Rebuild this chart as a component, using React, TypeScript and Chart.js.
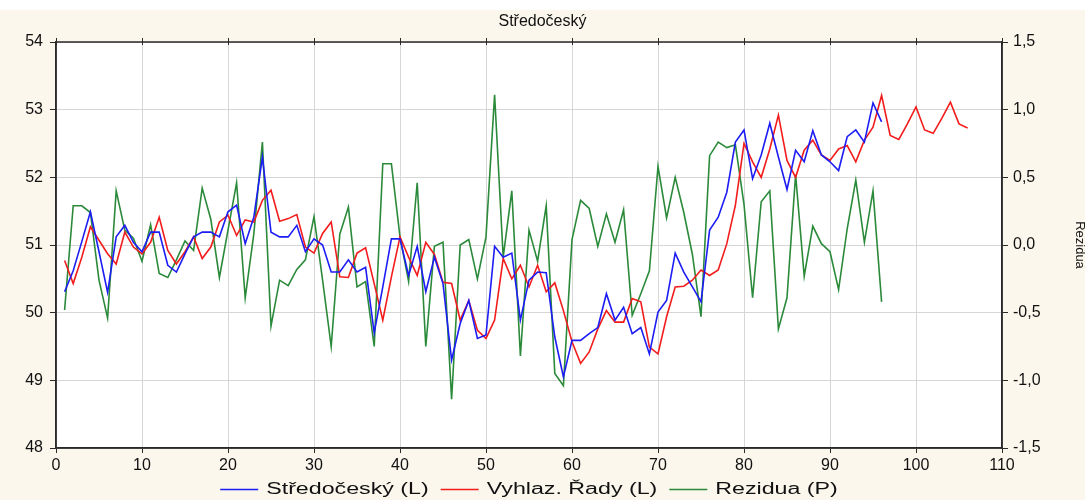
import { useEffect, useRef } from "react";
import { Chart, registerables } from "chart.js";

Chart.register(...registerables);

// Series data: observed values, smoothed series and residuals
const chartTitle = "Středočeský";
const seriesLabels = ["Středočeský (L)", "Vyhlaz. Řady (L)", "Rezidua (P)"];
const residualAxisTitle = "Rezidua";

const observed = [
  50.31, 50.62, 51.05, 51.49, 50.9, 50.3, 51.12, 51.29, 51.04, 50.9,
  51.19, 51.19, 50.7, 50.6, 50.87, 51.12, 51.19, 51.19, 51.12, 51.49,
  51.59, 51.02, 51.41, 52.3, 51.19, 51.12, 51.12, 51.29, 50.9, 51.09,
  51.0, 50.6, 50.6, 50.78, 50.6, 50.67, 49.7, 50.38, 51.09, 51.09,
  50.55, 50.98, 50.31, 50.82, 50.43, 49.3, 49.84, 50.18, 49.62, 49.67,
  50.98, 50.82, 50.88, 49.89, 50.48, 50.6, 50.59, 49.64, 49.05, 49.59,
  49.59, 49.69, 49.78, 50.28, 49.89, 50.08, 49.69, 49.78, 49.39, 50.01,
  50.18, 50.88, 50.6, 50.38, 50.16, 51.22, 51.41, 51.78, 52.52, 52.7,
  51.98, 52.33, 52.8, 52.3, 51.82, 52.4, 52.23, 52.69, 52.33, 52.23,
  52.1, 52.6, 52.7, 52.52, 53.1, 52.82,
];

const smoothed = [
  50.77, 50.43, 50.82, 51.27, 51.07, 50.87, 50.72, 51.19, 50.97, 50.87,
  51.04, 51.41, 50.92, 50.72, 50.9, 51.12, 50.8, 50.97, 51.34, 51.44,
  51.14, 51.37, 51.34, 51.66, 51.81, 51.35, 51.39, 51.45, 50.97, 50.88,
  51.17, 51.34, 50.53, 50.52, 50.88, 50.96, 50.43, 49.89, 50.53, 51.12,
  50.82, 50.55, 51.04, 50.86, 50.45, 50.43, 49.89, 50.18, 49.74, 49.62,
  49.89, 50.8, 50.5, 50.7, 50.38, 50.7, 50.31, 50.44, 50.03, 49.57,
  49.25, 49.42, 49.76, 50.03, 49.86, 49.86, 50.21, 50.16, 49.49, 49.39,
  49.94, 50.38, 50.39, 50.48, 50.63, 50.55, 50.63, 51.02, 51.59, 52.5,
  52.23, 52.0, 52.42, 52.92, 52.25, 52.0, 52.4, 52.55, 52.33, 52.25,
  52.42, 52.47, 52.23, 52.55, 52.74, 53.21, 52.62, 52.56, 52.79, 53.04,
  52.7, 52.65, 52.87, 53.11, 52.79, 52.73,
];

const residuals = [
  -0.48, 0.29, 0.29, 0.24, -0.26, -0.54, 0.4, 0.11, 0.05, -0.12,
  0.15, -0.21, -0.24, -0.11, 0.03, -0.04, 0.42, 0.19, -0.24, 0.11,
  0.46, -0.39, 0.08, 0.76, -0.6, -0.26, -0.3, -0.18, -0.11, 0.21,
  -0.26, -0.75, 0.08, 0.28, -0.31, -0.27, -0.75, 0.6, 0.6, 0.06,
  -0.27, 0.46, -0.75, -0.01, 0.02, -1.14, 0.0, 0.04, -0.25, 0.06,
  1.11, -0.09, 0.4, -0.82, 0.11, -0.12, 0.29, -0.95, -1.04, 0.04,
  0.33, 0.27, -0.01, 0.23, 0.02, 0.26, -0.52, -0.36, -0.19, 0.58,
  0.2, 0.5, 0.24, -0.07, -0.53, 0.66, 0.76, 0.72, 0.74, 0.3,
  -0.39, 0.32, 0.4, -0.62, -0.39, 0.52, -0.23, 0.14, 0.01, -0.05,
  -0.33, 0.12, 0.48, 0.02, 0.4, -0.42,
];

const leftAxisRange = [48, 54];
const rightAxisRange = [-1.5, 1.5];
const xAxisRange = [0, 110];

const seriesColors = ["#1c1cf5", "#f21c1c", "#2b8a3a"];

const FONT = "'Liberation Sans', Arial, sans-serif";
const W = 1085;
const H = 500;
const X_AXIS_H = 26;
const BOTTOM_SPACE = H - 448 - X_AXIS_H;

const toPoints = (vals: number[]) => vals.map((v, i) => ({ x: i + 1, y: v }));

// Background, white plot area, dark frame and top-edge tick marks
const framePlugin = {
  id: "frame",
  beforeDraw(chart: any) {
    const { ctx, chartArea } = chart;
    ctx.save();
    ctx.fillStyle = "#ffffff";
    ctx.fillRect(0, 0, chart.width, chart.height);
    ctx.fillStyle = "#fbf7ed";
    ctx.fillRect(0, 10, chart.width, chart.height - 10);
    ctx.fillStyle = "#ffffff";
    ctx.fillRect(chartArea.left, chartArea.top, chartArea.right - chartArea.left, chartArea.bottom - chartArea.top);
    ctx.restore();
  },
  afterDraw(chart: any) {
    const { ctx, chartArea, scales } = chart;
    ctx.save();
    ctx.strokeStyle = "#2a2a2a";
    ctx.lineWidth = 1.5;
    ctx.strokeRect(chartArea.left, chartArea.top, chartArea.right - chartArea.left, chartArea.bottom - chartArea.top);
    ctx.lineWidth = 1;
    for (const t of scales.x.ticks) {
      const px = Math.round(scales.x.getPixelForValue(t.value)) + 0.5;
      ctx.beginPath();
      ctx.moveTo(px, chartArea.top - 4);
      ctx.lineTo(px, chartArea.top + 3);
      ctx.stroke();
    }
    ctx.restore();
  },
};

// Legend row under the x axis with wide, horizontally stretched lettering
const wideLegendPlugin = {
  id: "wideLegend",
  afterDraw(chart: any) {
    const { ctx, chartArea } = chart;
    const sx = 1.45;
    const lineLen = 38;
    const lineGap = 8;
    const itemGap = 12;
    const y = 490;
    ctx.save();
    ctx.font = `16px ${FONT}`;
    const items = chart.data.datasets.map((ds: any) => ({
      label: ds.label as string,
      color: ds.borderColor as string,
      w: ctx.measureText(ds.label).width * sx,
    }));
    const total =
      items.reduce((a: number, it: any) => a + lineLen + lineGap + it.w, 0) + itemGap * (items.length - 1);
    let x = (chartArea.left + chartArea.right) / 2 - total / 2;
    for (const it of items) {
      ctx.strokeStyle = it.color;
      ctx.lineWidth = 1.5;
      ctx.beginPath();
      ctx.moveTo(x, y - 0.5);
      ctx.lineTo(x + lineLen, y - 0.5);
      ctx.stroke();
      x += lineLen + lineGap;
      ctx.save();
      ctx.translate(x, y);
      ctx.scale(sx, 1);
      ctx.fillStyle = "#111";
      ctx.textBaseline = "middle";
      ctx.fillText(it.label, 0, 0);
      ctx.restore();
      x += it.w + itemGap;
    }
    ctx.restore();
  },
};

export default function App() {
  const canvasRef = useRef<HTMLCanvasElement | null>(null);

  useEffect(() => {
    document.body.style.margin = "0";
    const canvas = canvasRef.current;
    if (!canvas) return;

    const gridColor = "#d6d6d6";
    const tickFont = { family: FONT, size: 16 };

    const makeSet = (label: string, vals: number[], color: string, axis: string) => ({
      label,
      data: toPoints(vals),
      borderColor: color,
      backgroundColor: color,
      borderWidth: 1.6,
      pointRadius: 0,
      tension: 0,
      yAxisID: axis,
    });

    const chart = new Chart(canvas, {
      type: "line",
      data: {
        datasets: [
          makeSet(seriesLabels[0], observed, seriesColors[0], "y"),
          makeSet(seriesLabels[1], smoothed, seriesColors[1], "y"),
          makeSet(seriesLabels[2], residuals, seriesColors[2], "y1"),
        ],
      },
      options: {
        responsive: false,
        animation: false,
        devicePixelRatio: 1,
        events: [],
        layout: { padding: { left: 0, right: 0, top: 0, bottom: BOTTOM_SPACE } },
        plugins: {
          title: {
            display: true,
            text: chartTitle,
            color: "#111",
            font: { family: FONT, size: 16, weight: "normal" },
            padding: { top: 12, bottom: 10.8 },
          },
          legend: { display: false },
          tooltip: { enabled: false },
        },
        scales: {
          x: {
            type: "linear",
            min: xAxisRange[0],
            max: xAxisRange[1],
            ticks: { stepSize: 10, color: "#111", font: tickFont, padding: 3, maxRotation: 0 },
            grid: { color: gridColor, tickLength: 5, tickColor: "#2a2a2a" },
            border: { color: "#2a2a2a", width: 1.5 },
            afterFit: (s: any) => {
              s.height = X_AXIS_H;
            },
          },
          y: {
            position: "left",
            min: leftAxisRange[0],
            max: leftAxisRange[1],
            ticks: { stepSize: 1, color: "#111", font: tickFont, padding: 7 },
            grid: { color: gridColor, tickLength: 6, tickColor: "#2a2a2a" },
            border: { color: "#2a2a2a", width: 1.5 },
            afterFit: (s: any) => {
              s.width = 56;
            },
          },
          y1: {
            position: "right",
            min: rightAxisRange[0],
            max: rightAxisRange[1],
            ticks: {
              stepSize: 0.5,
              color: "#111",
              font: tickFont,
              padding: 5,
              callback: (v: any) => Number(v).toFixed(1).replace(".", ","),
            },
            grid: { drawOnChartArea: false, tickLength: 6, tickColor: "#2a2a2a" },
            border: { color: "#2a2a2a", width: 1.5 },
            title: {
              display: true,
              text: residualAxisTitle,
              color: "#111",
              font: { family: FONT, size: 13 },
              padding: { top: -2, bottom: 0 },
            },
            afterFit: (s: any) => {
              s.width = W - 1002;
            },
          },
        },
      },
      plugins: [framePlugin, wideLegendPlugin],
    });

    return () => chart.destroy();
  }, []);

  return (
    <div style={{ width: W, height: H }}>
      <canvas ref={canvasRef} width={W} height={H} style={{ display: "block" }} />
    </div>
  );
}
